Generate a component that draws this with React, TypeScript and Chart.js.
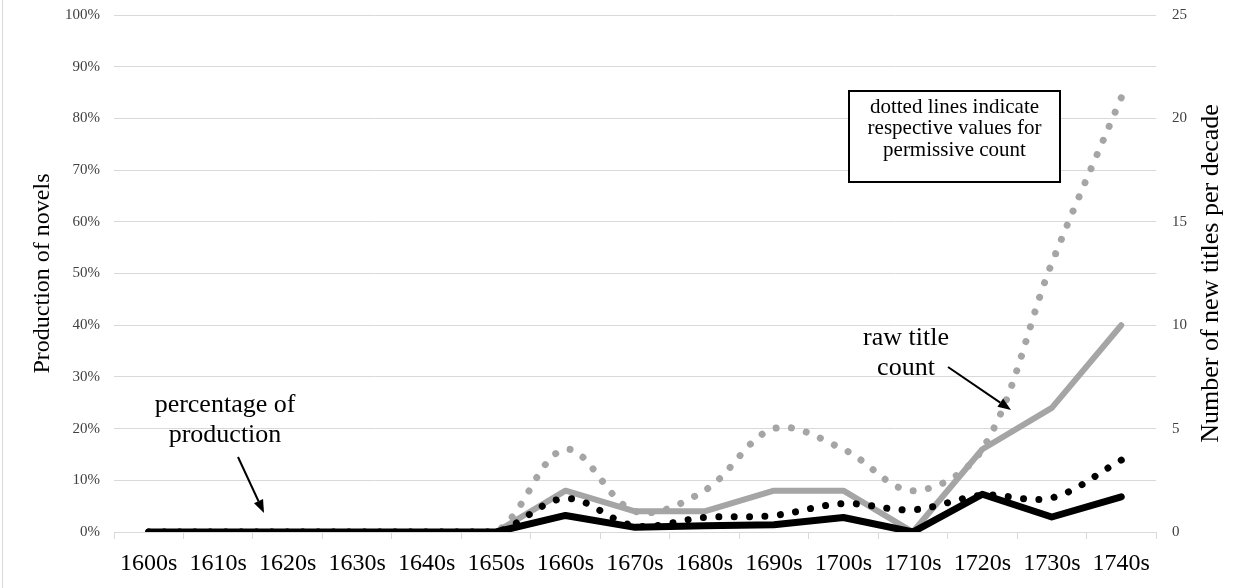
import React, { useEffect, useRef } from "react";
import { Chart, registerables } from "chart.js";

Chart.register(...registerables);

// ---- data ----
const decades = [
  "1600s", "1610s", "1620s", "1630s", "1640s", "1650s", "1660s", "1670s",
  "1680s", "1690s", "1700s", "1710s", "1720s", "1730s", "1740s",
];
// percentage of production (left axis, %)
const pctStrict = [0, 0, 0, 0, 0, 0, 3.2, 0.9, 1.2, 1.4, 2.8, 0, 7.3, 2.9, 6.8];
const pctPermissive = [0, 0, 0, 0, 0, 0, 6.5, 1.2, 2.8, 3.2, 5.5, 4.3, 7.1, 6.6, 13.9];
// raw title count (right axis)
const countStrict = [0, 0, 0, 0, 0, 0, 2, 1, 1, 2, 2, 0, 4, 6, 10];
const countPermissive = [0, 0, 0, 0, 0, 0, 4, 1, 2, 5, 4, 2, 4, 13, 21];

const leftMax = 100;
const leftStep = 10;
const rightMax = 25;
const rightStep = 5;

const leftTitle = "Production of novels";
const rightTitle = "Number of new titles per decade";
const noteLines = ["dotted lines indicate", "respective values for", "permissive count"];
const pctLabel = ["percentage of", "production"];
const countLabel = ["raw title", "count"];

const SERIF = '"Liberation Serif", "Times New Roman", serif';
const GRID = "#d9d9d9";
const GRAY = "#a5a5a5";

function arrow(ctx: CanvasRenderingContext2D, x1: number, y1: number, x2: number, y2: number) {
  const ang = Math.atan2(y2 - y1, x2 - x1);
  const headLen = 13;
  const headW = 5;
  const bx = x2 - headLen * Math.cos(ang);
  const by = y2 - headLen * Math.sin(ang);
  ctx.beginPath();
  ctx.moveTo(x1, y1);
  ctx.lineTo(bx, by);
  ctx.lineWidth = 2;
  ctx.strokeStyle = "#000";
  ctx.stroke();
  ctx.beginPath();
  ctx.moveTo(x2, y2);
  ctx.lineTo(bx + headW * Math.sin(ang), by - headW * Math.cos(ang));
  ctx.lineTo(bx - headW * Math.sin(ang), by + headW * Math.cos(ang));
  ctx.closePath();
  ctx.fillStyle = "#000";
  ctx.fill();
}

const annotations = {
  id: "annotations",
  afterDraw(chart: any) {
    const ctx: CanvasRenderingContext2D = chart.ctx;
    const area = chart.chartArea;
    const midY = (area.top + area.bottom) / 2;
    ctx.save();
    // axis titles (both read bottom-to-top)
    ctx.fillStyle = "#000";
    ctx.textAlign = "center";
    ctx.textBaseline = "middle";
    ctx.font = `24px ${SERIF}`;
    ctx.save();
    ctx.translate(43, midY);
    ctx.rotate(-Math.PI / 2);
    ctx.fillText(leftTitle, 0, 0);
    ctx.restore();
    ctx.font = `26px ${SERIF}`;
    ctx.save();
    ctx.translate(1211, midY);
    ctx.rotate(-Math.PI / 2);
    ctx.fillText(rightTitle, 0, 0);
    ctx.restore();

    // callouts
    ctx.font = `26px ${SERIF}`;
    ctx.fillText(pctLabel[0], 225, 405);
    ctx.fillText(pctLabel[1], 225, 435);
    ctx.fillText(countLabel[0], 906, 338);
    ctx.fillText(countLabel[1], 906, 368);
    arrow(ctx, 238, 457, 264, 513);
    arrow(ctx, 948, 367, 1011, 410);

    // note box
    ctx.fillStyle = "#fff";
    ctx.fillRect(848, 90, 213, 93);
    ctx.lineWidth = 2;
    ctx.strokeStyle = "#000";
    ctx.strokeRect(849, 91, 211, 91);
    ctx.fillStyle = "#000";
    ctx.font = `21px ${SERIF}`;
    noteLines.forEach((t, i) => ctx.fillText(t, 954.5, 107 + i * 21.6));
    ctx.restore();
  },
};

export default function App() {
  const ref = useRef<HTMLCanvasElement | null>(null);

  useEffect(() => {
    if (!ref.current) return;
    const dotted = [0.001, 15.4];
    const chart = new Chart(ref.current, {
      type: "line",
      data: {
        labels: decades,
        datasets: [
          {
            label: "percentage (strict)",
            data: pctStrict,
            yAxisID: "y",
            borderColor: "#000",
            borderWidth: 7,
            pointRadius: 0,
            tension: 0,
            borderJoinStyle: "round",
            borderCapStyle: "round",
            order: 1,
          },
          {
            label: "percentage (permissive)",
            data: pctPermissive,
            yAxisID: "y",
            borderColor: "#000",
            borderWidth: 7,
            borderDash: dotted,
            borderCapStyle: "round",
            pointRadius: 0,
            tension: 0.35,
            order: 2,
          },
          {
            label: "raw count (strict)",
            data: countStrict,
            yAxisID: "y1",
            borderColor: GRAY,
            borderWidth: 6,
            pointRadius: 0,
            tension: 0,
            borderJoinStyle: "round",
            borderCapStyle: "round",
            order: 3,
          },
          {
            label: "raw count (permissive)",
            data: countPermissive,
            yAxisID: "y1",
            borderColor: GRAY,
            borderWidth: 7,
            borderDash: dotted,
            borderCapStyle: "round",
            pointRadius: 0,
            tension: 0.35,
            order: 4,
          },
        ],
      },
      options: {
        responsive: false,
        animation: false,
        devicePixelRatio: 1,
        layout: { padding: { top: 15, left: 0, right: 0, bottom: 0 } },
        plugins: {
          legend: { display: false },
          tooltip: { enabled: false },
        },
        scales: {
          x: {
            type: "category",
            offset: true,
            grid: {
              offset: true,
              drawOnChartArea: false,
              drawTicks: true,
              tickLength: 7,
              color: GRID,
              lineWidth: 1,
            },
            border: { display: true, color: GRID, width: 1 },
            ticks: {
              font: { family: SERIF, size: 24 },
              color: "#000",
              padding: 10,
              maxRotation: 0,
              minRotation: 0,
              autoSkip: false,
            },
            afterFit: (s: any) => {
              s.height = 56;
            },
          },
          y: {
            position: "left",
            min: 0,
            max: leftMax,
            grid: {
              color: GRID,
              lineWidth: 1,
              drawTicks: true,
              tickLength: 14,
              tickColor: "rgba(0,0,0,0)",
            },
            border: { display: false },
            ticks: {
              stepSize: leftStep,
              padding: 0,
              color: "#404040",
              font: { family: SERIF, size: 15 },
              callback: (v: any) => `${v}%`,
            },
            afterFit: (s: any) => {
              s.width = 114;
            },
          },
          y1: {
            position: "right",
            min: 0,
            max: rightMax,
            grid: {
              drawOnChartArea: false,
              drawTicks: true,
              tickLength: 16,
              tickColor: "rgba(0,0,0,0)",
            },
            border: { display: false },
            ticks: {
              stepSize: rightStep,
              padding: 0,
              color: "#404040",
              font: { family: SERIF, size: 15 },
            },
            afterFit: (s: any) => {
              s.width = 91;
            },
          },
        },
      },
      plugins: [annotations],
    });
    return () => chart.destroy();
  }, []);

  return (
    <div
      style={{
        position: "fixed",
        left: 0,
        top: 0,
        width: 1247,
        height: 588,
        background: "#fff",
      }}
    >
      <div
        style={{
          position: "absolute",
          left: 2,
          top: 0,
          width: 1,
          height: 588,
          background: GRID,
        }}
      />
      <canvas ref={ref} width={1247} height={588} style={{ display: "block" }} />
    </div>
  );
}
